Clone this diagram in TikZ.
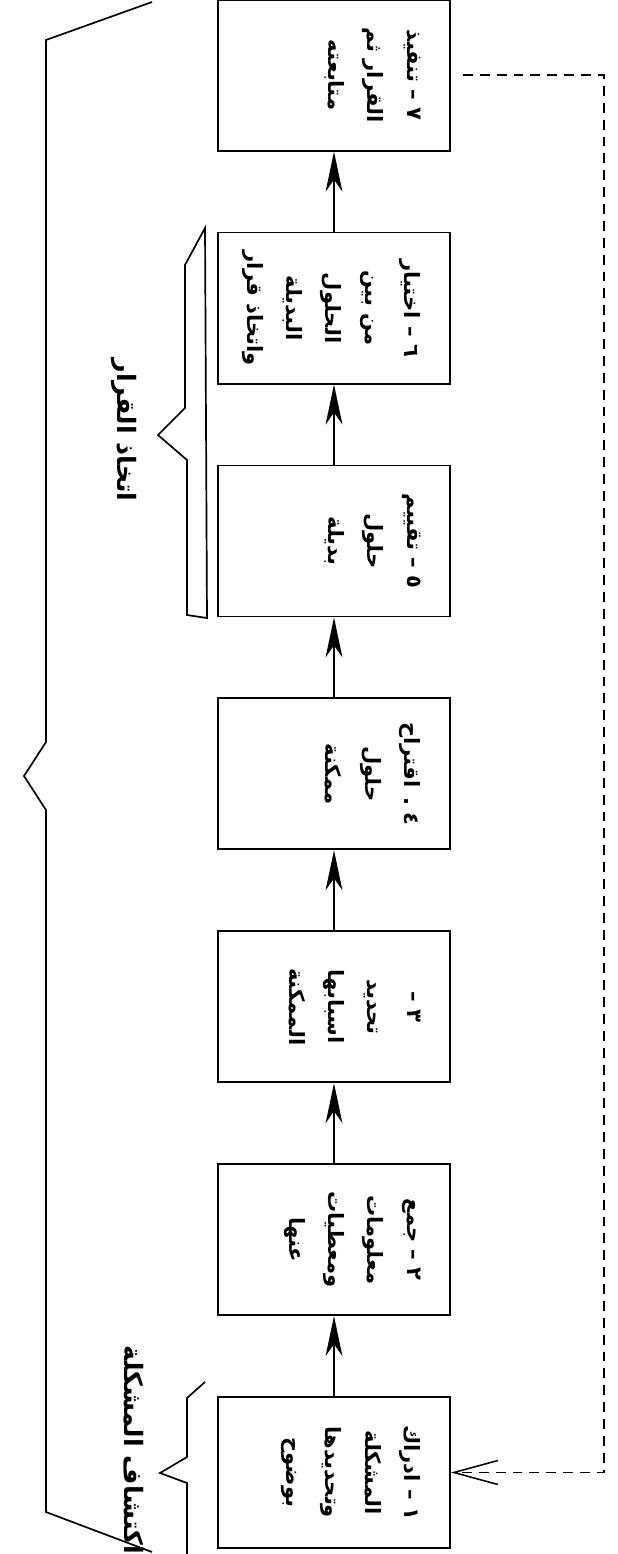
\documentclass[tikz,border=0pt]{standalone}
\usepackage{fontspec}
\newfontfamily\arabicfont[Script=Arabic]{DejaVu Sans}
\TeXXeTstate=1
\usetikzlibrary{arrows.meta,positioning}
\newcommand{\rl}[1]{\beginR #1\endR}
\tikzset{
  stage/.style={draw, line width=1.3pt, minimum width=5.8cm, minimum height=3.775cm, inner sep=0pt},
  stagetext/.style={rotate=-90, anchor=north, align=center, inner sep=0pt, font=\arabicfont\bfseries\fontsize{15}{28}\selectfont},
  flow/.style={line width=0.9pt, -{Stealth[length=1cm, width=0.42cm, inset=0.3cm]}},
  feedback/.style={line width=1.1pt, dash pattern=on 7pt off 5pt, -{Straight Barb[length=1.1cm, width=0.6cm]}},
  brace/.style={line width=1.2pt, line join=miter},
  bracelabel/.style={rotate=-90, inner sep=0pt, font=\arabicfont\bfseries\fontsize{18}{20}\selectfont}
}
\begin{document}
\begin{tikzpicture}[x=0.025cm, y=-0.025cm]
    \useasboundingbox (0,0) rectangle (618,1554);
    % stages, first at the bottom
    \node[stage] (s1) at (334,1472.5) {};
    \node[stage, above=2cm of s1] (s2) {};
    \node[stage, above=2cm of s2] (s3) {};
    \node[stage, above=2cm of s3] (s4) {};
    \node[stage, above=2cm of s4] (s5) {};
    \node[stage, above=2cm of s5] (s6) {};
    \node[stage, above=2cm of s6] (s7) {};
    % stage texts, first line at the right side
    \node[stagetext] (t1) at ([xshift=-0.75cm]s1.east) {\rl{١ – ادراك}\\\rl{المشكلة}\\\rl{وتحديدها}\\\rl{بوضوح}};
    \node[stagetext] (t2) at ([xshift=-0.75cm]s2.east) {\rl{٢ – جمع}\\\rl{معلومات}\\\rl{ومعطيات}\\\rl{عنها}};
    \node[stagetext] (t3) at ([xshift=-0.75cm]s3.east) {\rl{٣ –}\\\rl{تحديد}\\\rl{اسبابها}\\\rl{الممكنة}};
    \node[stagetext] (t4) at ([xshift=-0.75cm]s4.east) {\rl{٤ . اقتراح}\\\rl{حلول}\\\rl{ممكنة}};
    \node[stagetext] (t5) at ([xshift=-0.75cm]s5.east) {\rl{٥ – تقييم}\\\rl{حلول}\\\rl{بديلة}};
    \node[stagetext] (t6) at ([xshift=-0.75cm]s6.east) {\rl{٦ – اختيار}\\\rl{من بين}\\\rl{الحلول}\\\rl{البديلة}\\\rl{واتخاذ قرار}};
    \node[stagetext] (t7) at ([xshift=-0.75cm]s7.east) {\rl{٧ – تنفيذ}\\\rl{القرار ثم}\\\rl{متابعته}};
    % arrows between stages
    \draw[flow] (s1) -- (s2);
    \draw[flow] (s2) -- (s3);
    \draw[flow] (s3) -- (s4);
    \draw[flow] (s4) -- (s5);
    \draw[flow] (s5) -- (s6);
    \draw[flow] (s6) -- (s7);
    % feedback loop
    \coordinate (fbx) at (604,0);
    \draw[feedback] ([xshift=0.3cm]s7.east) -- (s7.east -| fbx) -- (s1.east -| fbx) -- (s1.east);
    % big brace
    \draw[brace] (152,2) -- (46,40) -- (46,742) -- (24,776) -- (46,810) -- (46,1512) -- (152,1552);
    % brace: problem discovery
    \draw[brace] (205,1382) -- (187,1398) -- (187,1457) -- (160,1473) -- (187,1483) -- (187,1554);
    \node[bracelabel] (l1) at (134,1450) {\rl{اكتشاف المشكلة}};
    % brace: decision making
    \draw[brace] (205,228) -- (185,265) -- (185,408) -- (158,435) -- (187,460) -- (187,615) -- (207,618) -- cycle;
    \node[bracelabel] (l2) at (124,430) {\rl{اتخاذ القرار}};
\end{tikzpicture}
\end{document}
